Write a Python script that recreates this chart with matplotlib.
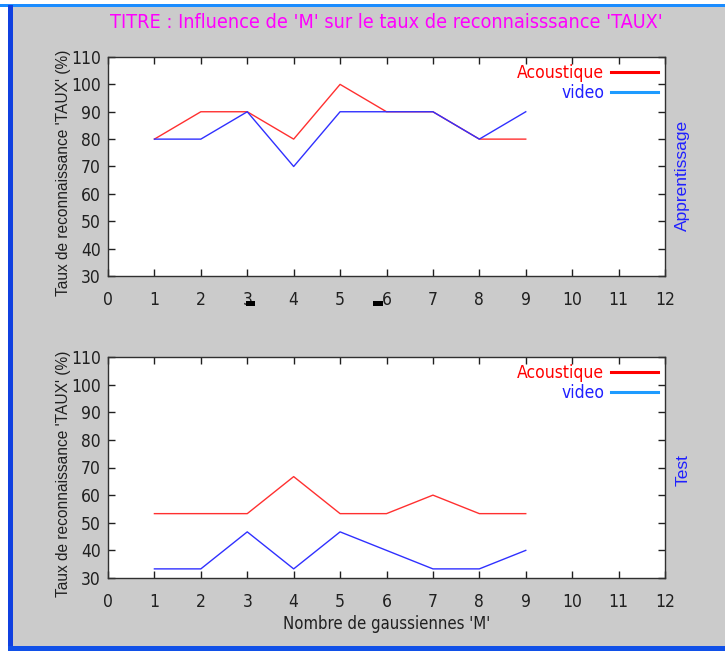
import matplotlib
matplotlib.use("Agg")
import matplotlib.pyplot as plt
from matplotlib.lines import Line2D
from matplotlib.patches import Rectangle

M = [1, 2, 3, 4, 5, 6, 7, 8, 9]
app_acoustique = [80, 90, 90, 80, 100, 90, 90, 80, 80]
app_video = [80, 80, 90, 70, 90, 90, 90, 80, 90]
test_acoustique = [53.3, 53.3, 53.3, 66.7, 53.3, 53.3, 60, 53.3, 53.3]
test_video = [33.3, 33.3, 46.7, 33.3, 46.7, 40, 33.3, 33.3, 40]
xticks = list(range(0, 13))
yticks = list(range(30, 111, 10))
series_labels = ["Acoustique", "video"]

NARROW = ["Liberation Sans Narrow", "DejaVu Sans"]
SANS = ["Liberation Sans", "DejaVu Sans"]
STRETCH = "condensed"

BG = "#cbcbcb"
RED = "#ff3030"
BLUE = "#3030ff"
LEG_RED = "#ff0000"
LEG_BLUE = "#1e9bff"
TXT = "#202020"

W, H = 725, 651
fig = plt.figure(figsize=(W / 100, H / 100), dpi=100, facecolor=BG)


def fig_rect(x0, y0, w, h, color, z=1):
    # pixel box (top-left origin) -> figure fraction
    fig.patches.append(Rectangle((x0 / W, 1 - (y0 + h) / H), w / W, h / H,
                                 transform=fig.transFigure, facecolor=color,
                                 edgecolor="none", zorder=z))


# window border
fig_rect(0, 0, W, 4, "white", 0)
fig_rect(0, 4, W, 3, "#1a8cff")
fig_rect(0, 0, 8, H, "white", 0)
fig_rect(8, 5, 5, H - 5, "#1040e0")
fig_rect(8, H - 5, W, 5, "#1050e8")
# small black screen artefacts near tick labels 3 and 6 (top plot)
fig_rect(246, 301, 9, 5, "black", 3)
fig_rect(373, 301, 10, 5, "black", 3)

left, right = 108, 665
top_axes = fig.add_axes([left / W, 1 - 276 / H, (right - left) / W, (276 - 57) / H])
bot_axes = fig.add_axes([left / W, 1 - 578 / H, (right - left) / W, (578 - 357) / H])


def style(ax, acou, vid, side_label, side_y):
    ax.set_facecolor("white")
    ax.plot(M, acou, color=RED, lw=1.0)
    ax.plot(M, vid, color=BLUE, lw=1.0)
    ax.set_xlim(0, 12)
    ax.set_ylim(30, 110)
    ax.set_xticks(xticks)
    ax.set_yticks(yticks)
    ax.tick_params(direction="in", length=5, width=1, colors=TXT,
                   top=True, right=True, labelsize=12.5)
    ax.tick_params(axis="x", pad=10.5)
    ax.tick_params(axis="y", pad=5)
    for lab in ax.get_xticklabels() + ax.get_yticklabels():
        lab.set_family(NARROW)
        lab.set_stretch(STRETCH)
    for sp in ax.spines.values():
        sp.set_color("#303030")
        sp.set_linewidth(1.0)
    ax.set_ylabel("Taux de reconnaissance 'TAUX' (%)", family=SANS, fontsize=11.2,
                  color=TXT)
    ax.yaxis.set_label_coords(-0.066, 0.47)
    ax.text(1.032, side_y, side_label, transform=ax.transAxes, rotation=90,
            ha="center", va="center", color="#2020ff", family=SANS, fontsize=12.5)
    handles = [Line2D([], [], color=LEG_RED, lw=2.2),
               Line2D([], [], color=LEG_BLUE, lw=2.2)]
    leg = ax.legend(handles, series_labels, loc="upper right", frameon=False,
                    markerfirst=False, handlelength=2.7, handletextpad=0.4,
                    borderaxespad=0.0, labelspacing=0.1,
                    prop={"family": NARROW, "size": 12.5, "stretch": STRETCH})
    leg.get_texts()[0].set_color("#ff0000")
    leg.get_texts()[1].set_color("#2020ff")


style(top_axes, app_acoustique, app_video, "Apprentissage", 0.46)
style(bot_axes, test_acoustique, test_video, "Test", 0.49)

top_axes.set_title("TITRE : Influence de 'M' sur le taux de reconnaisssance 'TAUX'",
                   color="#ff00ff", family=NARROW, fontsize=14.2, pad=21,
                   fontstretch=STRETCH)
bot_axes.set_xlabel("Nombre de gaussiennes 'M'", family=NARROW, fontsize=12,
                    color=TXT, labelpad=3, fontstretch=STRETCH)

fig.savefig("out.png", dpi=100, facecolor=BG)
